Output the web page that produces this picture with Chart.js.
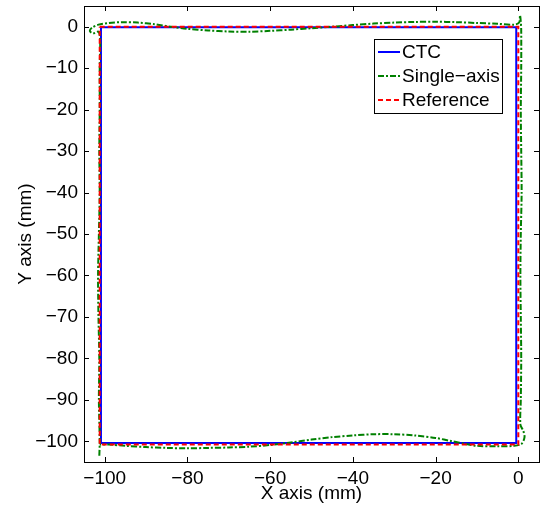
<!DOCTYPE html>
<html>
<head>
<meta charset="utf-8">
<script src="https://cdn.jsdelivr.net/npm/chart.js@4.4.0/dist/chart.umd.min.js"></script>
<style>
  html, body { margin: 0; padding: 0; background: #fff; }
</style>
</head>
<body>
<canvas id="myChart" width="545" height="508"></canvas>
<script>
// contour tracking of a 100 mm square, three trajectories
var seriesNames = ['CTC', 'Single\u2212axis', 'Reference'];

var ctcX = [-100.9, -0.5, -0.5, -100.9, -100.9];
var ctcY = [-0.1, -0.1, -100.4, -100.4, -0.1];

var singleX = [-101.3, -101.2, -101.4, -101.3, -101.5, -101.6, -101.4, -101.2, -101.3, -101.2, -101.2, -101.1, -101.5,
    -102.8, -103.6, -103.0, -101.5, -99,
    -96, -92, -88, -84, -80, -75, -70, -65, -60, -55, -50, -45, -40, -35, -30, -25, -20, -15, -10, -5, -1, 0.2, 0.4, 0.6, 0.7,
    0.7, 0.6, 0.7, 0.8, 0.6, 0.5, 0.6, 0.7, 0.6, 0.5, 1.2, 1.5, 0.8, -1,
    -5, -10, -13, -16, -20, -25, -30, -35, -40, -45, -50, -55, -60, -65, -70, -75, -80, -85, -90, -95, -99, -101.2];
var singleY = [-103.5, -100, -90, -80, -70, -60, -50, -40, -30, -20, -10, -3, -1.2,
    -1.6, -1.0, -0.2, 0.5, 0.9,
    1.1, 1.0, 0.6, 0.0, -0.5, -0.9, -1.15, -1.2, -1.0, -0.7, -0.35, 0.0, 0.4, 0.75, 1.0, 1.15, 1.2, 1.1, 0.9, 0.7, 0.5, 1.0, 2.8, 1.2, -1,
    -10, -20, -30, -40, -50, -60, -70, -80, -90, -96, -97.5, -99, -100.6, -101.1,
    -101.2, -101.1, -100.6, -100, -99.2, -98.6, -98.3, -98.3, -98.6, -99, -99.6, -100.3, -100.9, -101.3, -101.5, -101.6, -101.7, -101.6, -101.4, -101.1, -100.8, -100.8];

var refX = [-101.2, 0, 0, -101.2, -101.2];
var refY = [0, 0, -100.8, -100.8, 0];

var xTicks = [-100, -80, -60, -40, -20, 0];
var yTicks = [-100, -90, -80, -70, -60, -50, -40, -30, -20, -10, 0];

function toPoints(xs, ys) {
    return xs.map(function (x, i) { return { x: x, y: ys[i] }; });
}

function minusSign(v) {
    return String(v).replace('-', '\u2212');
}

var fontFamily = '"Liberation Sans", Arial, Helvetica, sans-serif';
var font19 = { family: fontFamily, size: 19 };

// axes box with inward ticks on all four sides
var boxPlugin = {
    id: 'boxAxes',
    afterDatasetsDraw: function (chart) {
        var ctx = chart.ctx, a = chart.chartArea;
        var sx = chart.scales.x, sy = chart.scales.y;
        ctx.save();
        ctx.strokeStyle = '#000';
        ctx.lineWidth = 1;
        ctx.strokeRect(Math.round(a.left) + 0.5, Math.round(a.top) + 0.5,
            Math.round(a.right - a.left), Math.round(a.bottom - a.top));
        ctx.beginPath();
        xTicks.forEach(function (v) {
            var px = Math.round(sx.getPixelForValue(v)) + 0.5;
            ctx.moveTo(px, a.bottom); ctx.lineTo(px, a.bottom - 5);
            ctx.moveTo(px, a.top); ctx.lineTo(px, a.top + 5);
        });
        yTicks.forEach(function (v) {
            var py = Math.round(sy.getPixelForValue(v)) + 0.5;
            ctx.moveTo(a.left, py); ctx.lineTo(a.left + 5, py);
            ctx.moveTo(a.right, py); ctx.lineTo(a.right - 5, py);
        });
        ctx.stroke();
        ctx.restore();
    }
};

// boxed legend in the upper right of the plot
var legendPlugin = {
    id: 'boxLegend',
    afterDraw: function (chart) {
        var ctx = chart.ctx, a = chart.chartArea;
        var left = Math.round(a.right) - 165, top = Math.round(a.top) + 33;
        var w = 128, h = 74, rowH = 24;
        ctx.save();
        ctx.fillStyle = '#fff';
        ctx.fillRect(left, top, w, h);
        ctx.strokeStyle = '#000';
        ctx.lineWidth = 1;
        ctx.strokeRect(left + 0.5, top + 0.5, w, h);
        ctx.font = '19px ' + fontFamily;
        ctx.textBaseline = 'middle';
        ctx.textAlign = 'left';
        chart.data.datasets.forEach(function (ds, i) {
            var y = top + 13 + i * rowH;
            ctx.beginPath();
            ctx.strokeStyle = ds.borderColor;
            ctx.lineWidth = ds.borderWidth;
            ctx.setLineDash(ds.borderDash || []);
            ctx.moveTo(left + 4, y);
            ctx.lineTo(left + 26, y);
            ctx.stroke();
            ctx.setLineDash([]);
            ctx.fillStyle = '#000';
            ctx.fillText(ds.label, left + 28, y + 1);
        });
        ctx.restore();
    }
};

var ctx = document.getElementById('myChart').getContext('2d');
var myChart = new Chart(ctx, {
    type: 'scatter',
    data: {
        datasets: [{
            label: seriesNames[0],
            data: toPoints(ctcX, ctcY),
            borderColor: '#0000ff',
            borderWidth: 2,
            order: 3
        }, {
            label: seriesNames[1],
            data: toPoints(singleX, singleY),
            borderColor: '#008000',
            borderWidth: 2,
            borderDash: [6, 2, 2, 2],
            tension: 0.3,
            order: 2
        }, {
            label: seriesNames[2],
            data: toPoints(refX, refY),
            borderColor: '#ff0000',
            borderWidth: 2,
            borderDash: [5, 3],
            order: 1
        }]
    },
    options: {
        responsive: false,
        devicePixelRatio: 1,
        animation: false,
        showLine: true,
        elements: { point: { radius: 0, hoverRadius: 0 }, line: { fill: false } },
        layout: { padding: { top: 6, right: 6, left: 0, bottom: 0 } },
        plugins: { legend: { display: false }, tooltip: { enabled: false } },
        scales: {
            x: {
                type: 'linear',
                min: -105,
                max: 5,
                afterBuildTicks: function (s) { s.ticks = xTicks.map(function (v) { return { value: v }; }); },
                // fixed axis band; end labels sit well inside the plot, so no side padding
                afterFit: function (s) { s.height = 46; s.paddingLeft = 0; s.paddingRight = 0; },
                grid: { display: false, drawTicks: false },
                border: { display: false },
                ticks: { color: '#000', font: font19, padding: 5, maxRotation: 0, autoSkip: false, callback: minusSign },
                title: { display: true, text: 'X axis (mm)', color: '#000', font: font19, padding: { top: 0, bottom: 3 } }
            },
            y: {
                type: 'linear',
                min: -105,
                max: 5,
                afterBuildTicks: function (s) { s.ticks = yTicks.map(function (v) { return { value: v }; }); },
                afterFit: function (s) { s.width = 84; s.paddingTop = 0; s.paddingBottom = 0; },
                grid: { display: false, drawTicks: false },
                border: { display: false },
                ticks: { color: '#000', font: font19, padding: 6, autoSkip: false, callback: minusSign },
                title: { display: true, text: 'Y axis (mm)', color: '#000', font: font19, padding: { top: 14, bottom: 0 } }
            }
        }
    },
    plugins: [boxPlugin, legendPlugin]
});
</script>
</body>
</html>
